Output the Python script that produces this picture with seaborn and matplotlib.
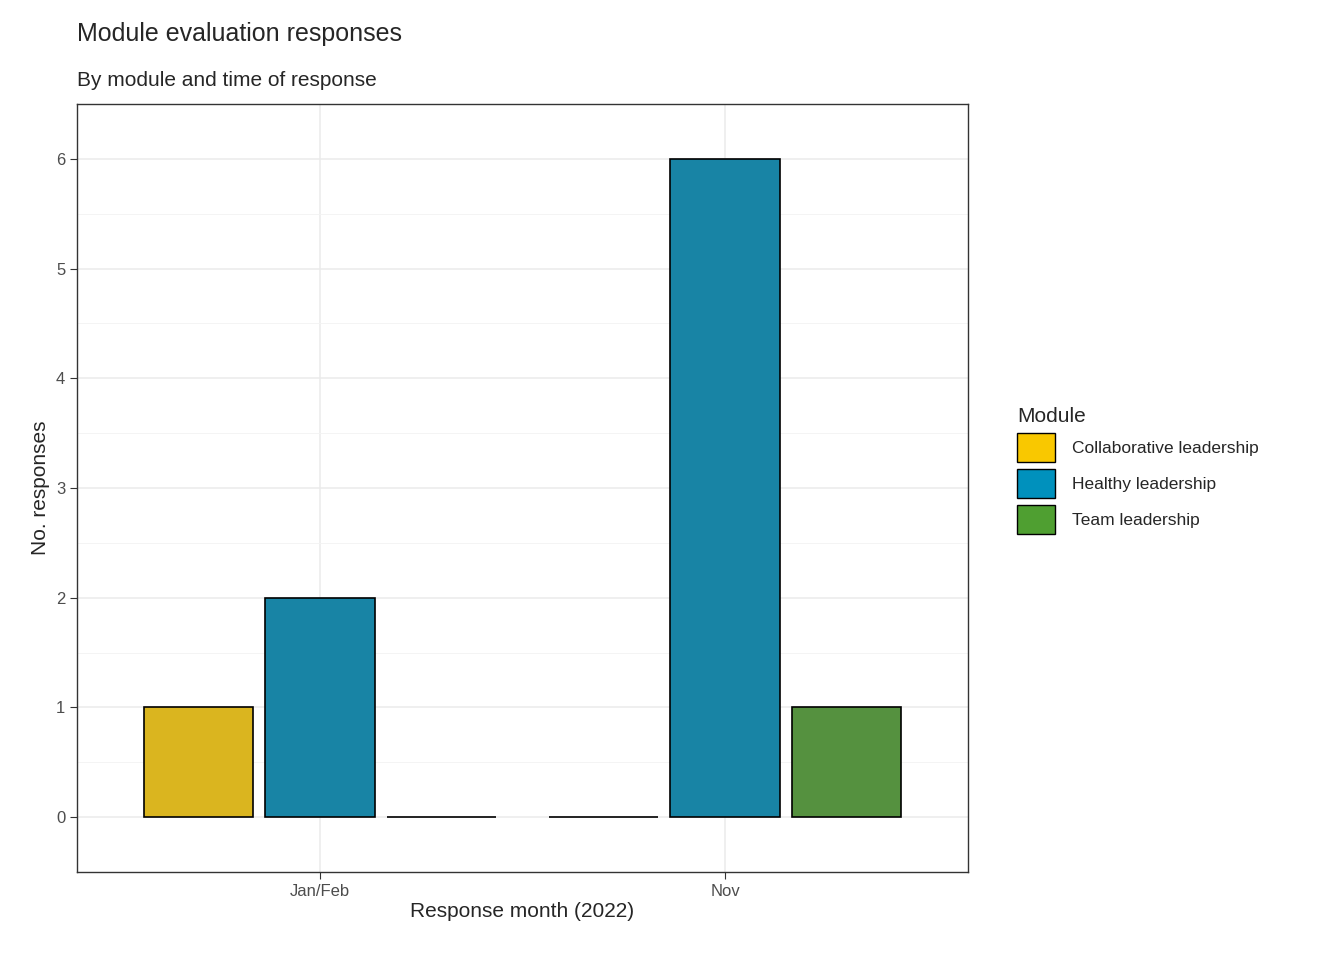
import seaborn as sns
import matplotlib.pyplot as plt
import pandas as pd
from matplotlib.patches import Patch
from matplotlib.ticker import MultipleLocator

months = ["Jan/Feb", "Jan/Feb", "Jan/Feb", "Nov", "Nov", "Nov"]
modules = ["Collaborative leadership", "Healthy leadership", "Team leadership",
           "Collaborative leadership", "Healthy leadership", "Team leadership"]
counts = [1, 2, 0, 0, 6, 1]
module_order = ["Collaborative leadership", "Healthy leadership", "Team leadership"]
colors = ["#F9C800", "#0091BD", "#4F9F31"]

df = pd.DataFrame({"month": months, "module": modules, "n": counts})

sns.set_style("white")
plt.rcParams['font.family'] = ['Liberation Sans', 'DejaVu Sans']
fig = plt.figure(figsize=(13.44, 9.6), dpi=100)
ax = fig.add_axes([0.0573, 0.0917, 0.6630, 0.8000])

sns.barplot(data=df, x="month", y="n", hue="module", hue_order=module_order,
            palette=colors, width=0.9, gap=0.1, edgecolor="black", linewidth=1.2,
            ax=ax, legend=False, zorder=3)

ax.set_ylim(-0.5, 6.5)
ax.set_xlim(-0.6, 1.6)
ax.yaxis.set_minor_locator(MultipleLocator(0.5))
ax.grid(True, which="major", color="#EBEBEB", linewidth=1.1, zorder=0)
ax.grid(True, which="minor", axis="y", color="#F3F3F3", linewidth=0.6, zorder=0)
ax.set_axisbelow(True)
for s in ax.spines.values():
    s.set_color("#333333")
    s.set_linewidth(1)
ax.tick_params(axis="both", which="major", length=5, color="#333333",
               labelsize=12, labelcolor="#4D4D4D", left=True, bottom=True)
ax.tick_params(which="minor", length=0)

ax.set_xlabel("Response month (2022)", fontsize=15, labelpad=2)
ax.set_ylabel("No. responses", fontsize=15)
fig.text(0.0573, 0.952, "Module evaluation responses", fontsize=18, va="bottom")
fig.text(0.0573, 0.906, "By module and time of response", fontsize=15, va="bottom")

handles = [Patch(facecolor=c, edgecolor="black", label=m) for c, m in zip(colors, module_order)]
leg = fig.legend(handles=handles, title="Module", loc="center left",
                 bbox_to_anchor=(0.745, 0.51), frameon=False, fontsize=12.5,
                 title_fontsize=15, handlelength=2.2, handleheight=2.2,
                 handletextpad=1.0, labelspacing=0.4)
leg._legend_box.align = "left"

fig.savefig("out.png", dpi=100)
